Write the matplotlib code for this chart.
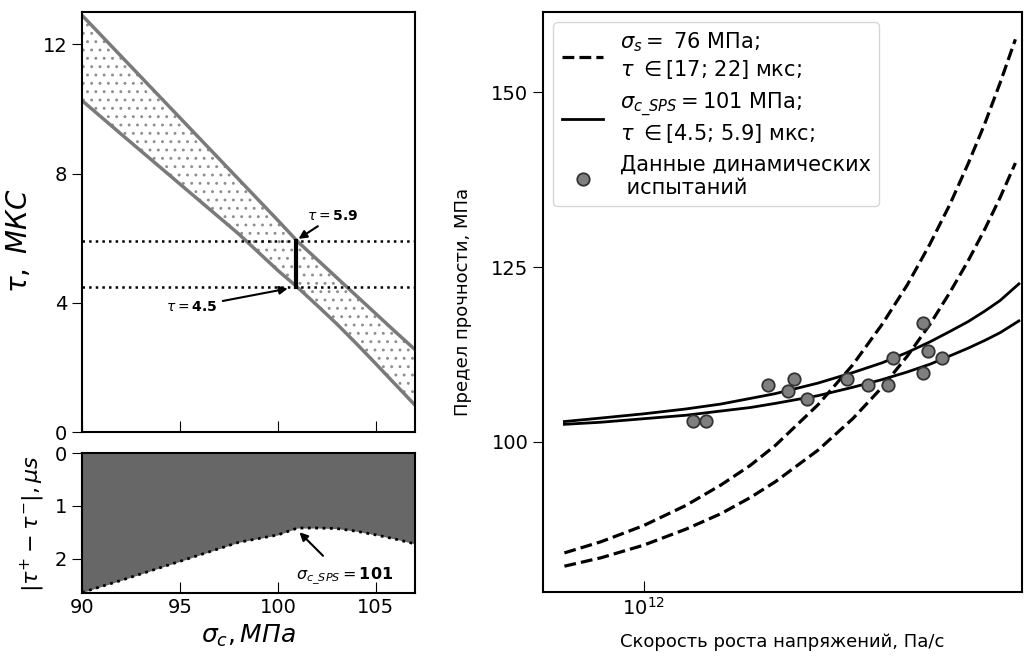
import numpy as np
import matplotlib
matplotlib.use('Agg')
from matplotlib import pyplot as plt
from matplotlib.ticker import FixedLocator, NullLocator

# границы интервала времени инкубации в зависимости от sigma_c
sigma_c = [90, 92, 94, 96, 98, 100, 101, 102, 103, 104, 105, 106, 107]
tau_upper = [12.9, 11.63, 10.36, 9.09, 7.82, 6.55, 5.9, 5.34, 4.78, 4.22, 3.66, 3.1, 2.55]
tau_lower = [10.26, 9.22, 8.19, 7.16, 6.13, 5.0, 4.48, 3.92, 3.35, 2.74, 2.11, 1.47, 0.83]
sigma_sps = 100.9
tau_min, tau_max = 4.5, 5.9

# теоретические кривые прочности (скорость в Па/с)
rate_solid = [0.66e12, 0.8e12, 1.0e12, 1.25e12, 1.5e12, 1.75e12, 2.0e12, 2.5e12, 3.0e12,
              3.5e12, 4.0e12, 4.5e12, 5.0e12, 5.5e12, 6.0e12, 6.5e12, 7.18e12]
sps_tau59 = [102.9, 103.4, 104.0, 104.7, 105.4, 106.2, 106.9, 108.4, 109.9,
             111.3, 112.8, 114.3, 115.8, 117.2, 118.7, 120.2, 122.6]
sps_tau45 = [102.5, 102.8, 103.3, 103.8, 104.4, 104.9, 105.5, 106.6, 107.8,
             108.9, 110.0, 111.1, 112.3, 113.4, 114.5, 115.6, 117.3]
rate_dash = [0.66e12, 0.8e12, 1.0e12, 1.25e12, 1.5e12, 1.75e12, 2.0e12, 2.5e12, 3.0e12,
             3.5e12, 4.0e12, 4.5e12, 5.0e12, 5.5e12, 6.0e12, 6.5e12, 7.05e12]
s_tau22 = [84.1, 85.7, 88.0, 90.9, 93.8, 96.6, 99.5, 105.3, 111.0,
           116.8, 122.5, 128.3, 134.0, 139.8, 145.5, 151.3, 157.6]
s_tau17 = [82.2, 83.4, 85.2, 87.5, 89.7, 92.0, 94.3, 98.8, 103.3,
           107.8, 112.3, 116.8, 121.4, 125.9, 130.4, 134.9, 139.9]

# данные динамических испытаний
exp_rate = [1.30e12, 1.39e12, 1.92e12, 2.14e12, 2.20e12, 2.36e12, 2.91e12,
            3.25e12, 3.62e12, 3.71e12, 4.33e12, 4.34e12, 4.45e12, 4.79e12]
exp_strength = [103.0, 103.0, 108.1, 107.2, 109.0, 106.1, 109.0,
                108.1, 108.1, 112.0, 109.9, 117.0, 113.0, 112.0]

plt.rcParams['hatch.color'] = '#8f8f8f'
plt.rcParams['hatch.linewidth'] = 0.9

fig = plt.figure(figsize=(10.33, 6.62), dpi=100)
ax1 = fig.add_axes([0.0794, 0.3474, 0.3224, 0.6344])
ax2 = fig.add_axes([0.0794, 0.1042, 0.3224, 0.2115])
ax3 = fig.add_axes([0.5257, 0.1057, 0.4637, 0.8761])

# верхний левый: область допустимых tau
ax1.fill_between(sigma_c, tau_lower, tau_upper, facecolor='none', edgecolor='#8f8f8f',
                 hatch='..', linewidth=0)
ax1.plot(sigma_c, tau_upper, color='#7a7a7a', lw=2.5)
ax1.plot(sigma_c, tau_lower, color='#7a7a7a', lw=2.5)
ax1.axhline(tau_max, color='black', ls=':', lw=1.8)
ax1.axhline(tau_min, color='black', ls=':', lw=1.8)
ax1.plot([sigma_sps, sigma_sps], [tau_min, tau_max], color='black', lw=3)
ax1.annotate(r'$\tau = \mathbf{5.9}$', xy=(101.05, 5.98), xytext=(101.5, 6.55), fontsize=10,
             arrowprops=dict(arrowstyle='-|>', color='black', lw=1.5, mutation_scale=12,
                             shrinkA=0, shrinkB=0))
ax1.annotate(r'$\tau = \mathbf{4.5}$', xy=(100.5, 4.44), xytext=(94.3, 3.75), fontsize=10,
             arrowprops=dict(arrowstyle='-|>', color='black', lw=1.5, mutation_scale=12,
                             shrinkA=2, shrinkB=0))
ax1.set_xlim(90, 107)
ax1.set_ylim(0, 13)
ax1.yaxis.set_major_locator(FixedLocator([0, 4, 8, 12]))
ax1.xaxis.set_major_locator(FixedLocator([90, 95, 100, 105]))
ax1.set_xticklabels([])
ax1.set_ylabel(r'$\tau,\ МКС$', fontsize=20)
ax1.yaxis.set_label_coords(-0.148, 0.455)

# нижний левый: ширина интервала tau
gap = np.array(tau_upper) - np.array(tau_lower)
ax2.fill_between(sigma_c, 0, gap, color='#676767', linewidth=0)
ax2.plot(sigma_c, gap, color='black', ls=':', lw=2)
ax2.annotate(r'$\sigma_{c\_SPS} = \mathbf{101}$', xy=(101.1, 1.5), xytext=(100.9, 2.4),
             fontsize=11.5,
             arrowprops=dict(arrowstyle='-|>', color='black', lw=1.5, mutation_scale=12,
                             shrinkA=8, shrinkB=0))
ax2.set_xlim(90, 107)
ax2.set_ylim(2.65, 0)
ax2.yaxis.set_major_locator(FixedLocator([0, 1, 2]))
ax2.xaxis.set_major_locator(FixedLocator([90, 95, 100, 105]))
ax2.set_xlabel(r'$\sigma_c, МПа$', fontsize=18)
ax2.set_ylabel(r'$|\tau^{+}-\tau^{-}|, \mu s$', fontsize=16, labelpad=6)

# правый: предел прочности от скорости нагружения
ax3.plot(rate_dash, s_tau22, color='black', ls='--', lw=2.3,
         label='$\\sigma_s = $ 76 МПа;\n$\\tau$ $\\in$[17; 22] мкс;')
ax3.plot(rate_dash, s_tau17, color='black', ls='--', lw=2.3)
ax3.plot(rate_solid, sps_tau59, color='black', lw=2,
         label='$\\sigma_{c\\_SPS} = 101$ МПа;\n$\\tau$ $\\in$[4.5; 5.9] мкс;')
ax3.plot(rate_solid, sps_tau45, color='black', lw=2)
ax3.scatter(exp_rate, exp_strength, s=80, color='#7f7f7f', edgecolor='#333333',
            linewidth=1.3, zorder=3, label='Данные динамических\n испытаний')
ax3.set_xscale('log')
ax3.set_xlim(5.9e11, 7.3e12)
ax3.set_ylim(78.5, 161.5)
ax3.xaxis.set_minor_locator(NullLocator())
ax3.yaxis.set_major_locator(FixedLocator([100, 125, 150]))
ax3.set_xlabel('Скорость роста напряжений, Па/с', fontsize=13, labelpad=10)
ax3.set_ylabel('Предел прочности, МПа', fontsize=13, labelpad=14)
ax3.legend(loc='upper left', fontsize=15, handlelength=2, borderaxespad=0.5,
           labelspacing=0.45)

for ax in (ax1, ax2, ax3):
    ax.tick_params(axis='x', direction='in', length=8, labelsize=14)
    ax.tick_params(axis='y', direction='out', length=7, labelsize=14)
    for sp in ax.spines.values():
        sp.set_linewidth(1.5)

plt.savefig('out.png', dpi=100)
